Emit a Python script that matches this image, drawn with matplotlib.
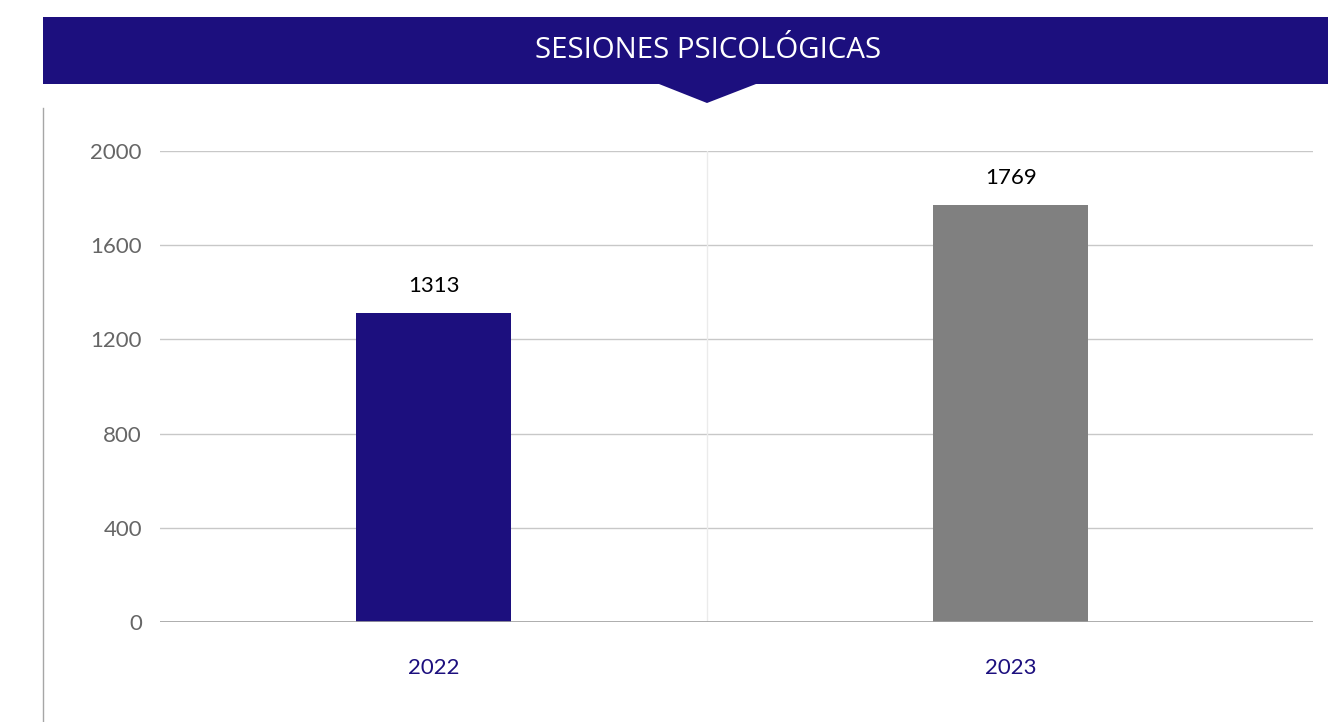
import matplotlib
matplotlib.use('Agg')
import matplotlib.pyplot as plt
from matplotlib.patches import Rectangle, Polygon
from matplotlib.lines import Line2D

# Data
years = ['2022', '2023']
sessions = [1313, 1769]
bar_colors = ['#1c0f7e', '#808080']
y_ticks = [0, 400, 800, 1200, 1600, 2000]
title = 'SESIONES PSICOLÓGICAS'

W, H = 1328, 722
fig = plt.figure(figsize=(W / 100, H / 100), dpi=100)
fig.patch.set_facecolor('white')

# Header banner with a pointer below it
def fx(px):
    return px / W

def fy(py):
    return 1 - py / H

fig.patches.append(Rectangle((fx(43), fy(84)), fx(1328) - fx(43), fy(17) - fy(84),
                             transform=fig.transFigure, facecolor='#1c0f7e', edgecolor='none'))
fig.patches.append(Polygon([(fx(659), fy(84)), (fx(756), fy(84)), (fx(707), fy(103))],
                           closed=True, transform=fig.transFigure,
                           facecolor='#1c0f7e', edgecolor='none'))
fig.text(fx(708), fy(51), title, color='white', fontsize=21.2, family='Open Sans',
         ha='center', va='center')

# Thin vertical rule at the left
fig.lines.append(Line2D([fx(43), fx(43)], [fy(108), fy(722)], transform=fig.transFigure,
                        color='#a6a6a6', linewidth=1))

# Plot area
ax = fig.add_axes([fx(160), fy(622), fx(1313) - fx(160), fy(151) - fy(622)])
x = list(range(len(years)))
bars = ax.bar(x, sessions, width=0.269, color=bar_colors, zorder=3)

ax.set_xlim(-0.474, 1.524)
ax.set_ylim(0, 2000)
ax.set_yticks(y_ticks)
ax.set_yticklabels([str(t) for t in y_ticks], family='Lato', fontsize=16, color='#666666')
ax.set_xticks(x)
ax.set_xticklabels(years, family='Lato', fontsize=16, color='#1c0f7e')
ax.tick_params(axis='y', length=0, pad=13)
ax.tick_params(axis='x', length=0, pad=26)

for t in y_ticks[1:]:
    ax.axhline(t, color='#c8c8c8', linewidth=1, zorder=1)
ax.axhline(0, color='#a0a0a0', linewidth=1.2, zorder=4)
ax.axvline(0.474, color='#ebebeb', linewidth=1, zorder=1)

for spine in ax.spines.values():
    spine.set_visible(False)

for b, v in zip(bars, sessions):
    ax.text(b.get_x() + b.get_width() / 2, v + 115, str(v), ha='center', va='center',
            family='Lato', fontsize=16, color='black')

fig.savefig('out.png', dpi=100, facecolor='white')
